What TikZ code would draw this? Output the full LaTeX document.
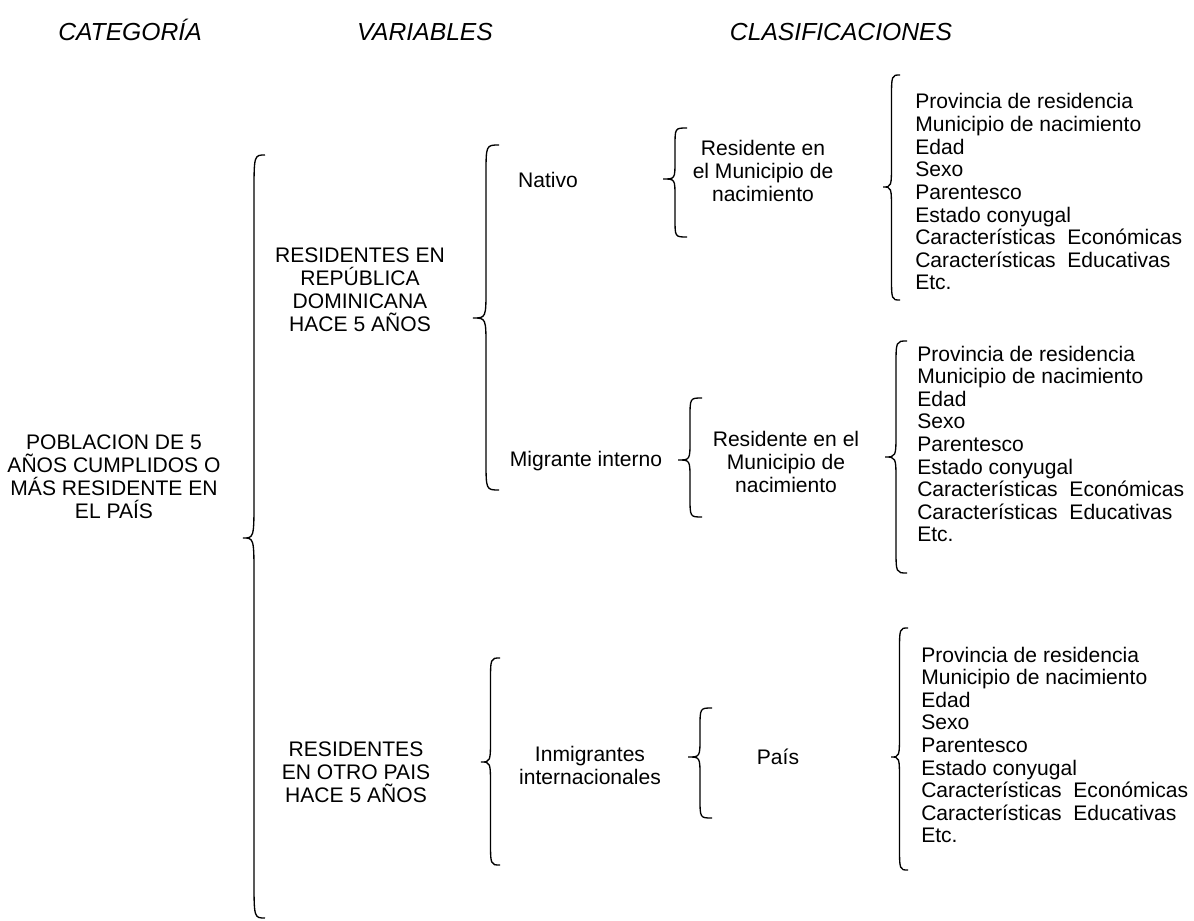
\documentclass[tikz,border=0pt]{standalone}
\usepackage{fontspec}
\setmainfont{Liberation Sans}
\usetikzlibrary{positioning}

\tikzset{
  llave/.style={line width=1pt},
  txt/.style={align=center, inner sep=0pt, font=\fontsize{15.8}{17.2}\selectfont},
  item/.style={anchor=base west, inner sep=0pt, font=\fontsize{15.8}{17.2}\selectfont},
  titulo/.style={anchor=base, inner sep=0pt, font=\fontsize{18.5}{20}\selectfont\itshape}
}

% brace: end x, tip x, top y, tip y, bottom y, bend
\newcommand{\llave}[6]{%
  \pgfmathsetmacro{\xm}{(#1+#2)/2}
  \draw[llave] (#1,-#3) .. controls (\xm,-#3) .. (\xm,-#3-#6) -- (\xm,-#4+#6)
    .. controls (\xm,-#4) .. (#2,-#4) .. controls (\xm,-#4) .. (\xm,-#4-#6)
    -- (\xm,-#5+#6) .. controls (\xm,-#5) .. (#1,-#5);
}

\begin{document}
\begin{tikzpicture}[x=0.75pt,y=0.75pt]
  \useasboundingbox (0,0) rectangle (1194,-920);

  \node[titulo] (cat) at (130,-41) {CATEGORÍA};
  \node[titulo] (var) at (425,-41) {VARIABLES};
  \node[titulo] (cla) at (841,-41) {CLASIFICACIONES};

  \node[txt] (pob) at (114,-477) {POBLACION DE 5\\AÑOS CUMPLIDOS O\\MÁS RESIDENTE EN\\EL PAÍS};
  \node[txt] (rrd) at (360,-290) {RESIDENTES EN\\REPÚBLICA\\DOMINICANA\\HACE 5 AÑOS};
  \node[txt] (rop) at (356,-772) {RESIDENTES\\EN OTRO PAIS\\HACE 5 AÑOS};
  \node[txt] (nat) at (548,-180) {Nativo};
  \node[txt] (mig) at (586,-461) {Migrante interno};
  \node[txt] (inm) at (590,-765) {Inmigrantes\\internacionales};
  \node[txt] (res1) at (763,-171) {Residente en\\el Municipio de\\nacimiento};
  \node[txt] (res2) at (786,-462) {Residente en el\\Municipio de\\nacimiento};
  \node[txt] (pais) at (778,-757) {País};

  \llave{265}{243}{155}{538}{918}{40}
  \llave{499}{473}{145}{318}{490}{30}
  \llave{500}{481}{658}{762}{865}{25}
  \llave{687}{663}{128}{179}{237}{18}
  \llave{702}{678}{398}{460}{517}{20}
  \llave{712}{688}{708}{757}{818}{20}
  \llave{900}{883}{75}{187}{300}{25}
  \llave{907}{885}{341}{457}{573}{25}
  \llave{908}{891}{628}{757}{870}{25}

  \foreach \y/\x/\n in {109/915/a, 361/917/b, 662/921/c}
    \foreach \t [count=\i] in {Provincia de residencia, Municipio de nacimiento,
        Edad, Sexo, Parentesco, Estado conyugal,
        Características\ \ Económicas, Características\ \ Educativas, Etc.}
      \node[item] (\n\i) at (\x,-\y-22.6*\i+22.6) {\t};
\end{tikzpicture}
\end{document}
